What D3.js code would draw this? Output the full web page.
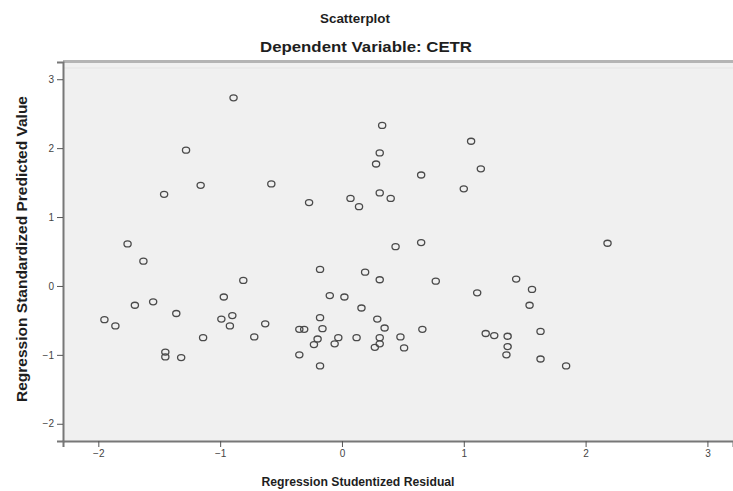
<!DOCTYPE html>
<html>
<head>
<meta charset="utf-8">
<script src="https://cdn.jsdelivr.net/npm/d3@7"></script>
<style>
  body { margin: 0; background: #fff; }
  text { font-family: "Liberation Sans", Arial, sans-serif; }
</style>
</head>
<body>
<div id="chart"></div>
<script>

//Studentized residuals (x) and standardized predicted values (y)
var residual = [
    -0.89, -1.28, -1.16, -0.58, -1.46, -1.76, -1.63, -0.81, -0.97, -1.55,
    -1.70, -1.36, -0.99, -0.90, -0.92, -1.95, -1.86, -0.63, -0.72, -1.14,
    -1.45, -1.45, -1.32,
    0.33, 1.06, 0.31, 0.28, 1.14, 0.65, 1.00, -0.27, 0.07, 0.14,
    0.31, 0.40, 0.44, 0.65,
    2.18,
    -0.18, 0.19, 0.31, 0.77, 1.43, 1.11, -0.10, 0.02, 0.16, -0.18,
    0.29, 0.35, 0.66, -0.35, -0.31, -0.16, -0.20, -0.23, -0.03, -0.06,
    0.12, 0.31, 0.31, 0.27, 0.48, 0.51, -0.35, -0.18, 1.18, 1.25,
    1.36, 1.36, 1.35,
    1.56, 1.54, 1.63, 1.63, 1.84
];
var predicted = [
    2.73, 1.97, 1.46, 1.48, 1.33, 0.61, 0.36, 0.08, -0.16, -0.23,
    -0.28, -0.40, -0.48, -0.43, -0.58, -0.49, -0.58, -0.55, -0.74, -0.75,
    -0.96, -1.03, -1.04,
    2.33, 2.10, 1.93, 1.77, 1.70, 1.61, 1.41, 1.21, 1.27, 1.15,
    1.35, 1.27, 0.57, 0.63,
    0.62,
    0.24, 0.20, 0.09, 0.07, 0.10, -0.10, -0.14, -0.16, -0.32, -0.46,
    -0.48, -0.61, -0.63, -0.63, -0.63, -0.62, -0.77, -0.85, -0.75, -0.84,
    -0.75, -0.75, -0.84, -0.89, -0.74, -0.90, -1.00, -1.16, -0.69, -0.72,
    -0.73, -0.88, -1.00,
    -0.05, -0.28, -0.66, -1.06, -1.16
];
var xTicks = [-2, -1, 0, 1, 2, 3];
var yTicks = [-2, -1, 0, 1, 2, 3];

var points = residual.map(function (r, i) { return { x: r, y: predicted[i] }; });

function drawChart(){

    var width = 733,
        height = 491;

    //Plot frame edges
    var left = 63, right = 733, top = 62, bottom = 441;

    var svg = d3.select('#chart')
        .append('svg')
        .attr('width', width)
        .attr('height', height);

    var x = d3.scaleLinear()
        .domain([-2.29, 3.21])
        .range([left, right]);

    var y = d3.scaleLinear()
        .domain([-2.25, 3.25])
        .range([bottom, top]);

    //Panel background
    svg.append('rect')
        .attr('x', left)
        .attr('y', top)
        .attr('width', right - left)
        .attr('height', bottom - top)
        .attr('fill', '#f0f0f0');

    //Top border band
    svg.append('rect')
        .attr('x', left)
        .attr('y', top - 2)
        .attr('width', right - left)
        .attr('height', 3)
        .attr('fill', '#b4b4b4');
    svg.append('line')
        .attr('x1', left).attr('x2', right)
        .attr('y1', top + 6).attr('y2', top + 6)
        .attr('stroke', '#e4e4e4');

    //Axes
    var xAxis = d3.axisBottom(x)
        .tickValues(xTicks)
        .tickSize(6)
        .tickPadding(3)
        .tickFormat(d3.format('d'));

    var yAxis = d3.axisLeft(y)
        .tickValues(yTicks)
        .tickSize(6)
        .tickPadding(3)
        .tickFormat(d3.format('d'));

    var gx = svg.append('g')
        .attr('transform', 'translate(0,' + bottom + ')')
        .call(xAxis);

    var gy = svg.append('g')
        .attr('transform', 'translate(' + left + ',0)')
        .call(yAxis);

    [gx, gy].forEach(function (g) {
        g.select('.domain').attr('stroke', '#777').attr('stroke-width', 2);
        g.selectAll('.tick line').attr('stroke', '#555');
        g.selectAll('.tick text')
            .attr('fill', '#444')
            .style('font-size', '10px')
            .style('font-family', '"Liberation Sans", Arial, sans-serif');
    });

    //Points
    svg.selectAll('.pt')
        .data(points)
        .enter()
        .append('ellipse')
        .attr('class', 'pt')
        .attr('cx', function (d) { return x(d.x); })
        .attr('cy', function (d) { return y(d.y); })
        .attr('rx', 3.6)
        .attr('ry', 3.0)
        .attr('fill', 'none')
        .attr('stroke', '#4a4a4a')
        .attr('stroke-width', 1.3);

    //Titles (stretched like the source image)
    function title(txt, tx, ty, size, len, rot){
        svg.append('text')
            .attr('transform', 'translate(' + tx + ',' + ty + ')' + (rot ? ' rotate(-90)' : ''))
            .attr('text-anchor', 'middle')
            .attr('textLength', len)
            .attr('lengthAdjust', 'spacingAndGlyphs')
            .style('font-size', size + 'px')
            .style('font-weight', 'bold')
            .attr('fill', '#1e1e1e')
            .text(txt);
    }

    title('Scatterplot', 355, 23, 13, 70, false);
    title('Dependent Variable: CETR', 366, 52, 14, 212, false);
    title('Regression Studentized Residual', 358, 486, 13, 193, false);
    title('Regression Standardized Predicted Value', 27, 249, 14, 306, true);
};

window.onload = drawChart();
</script>
</body>
</html>
